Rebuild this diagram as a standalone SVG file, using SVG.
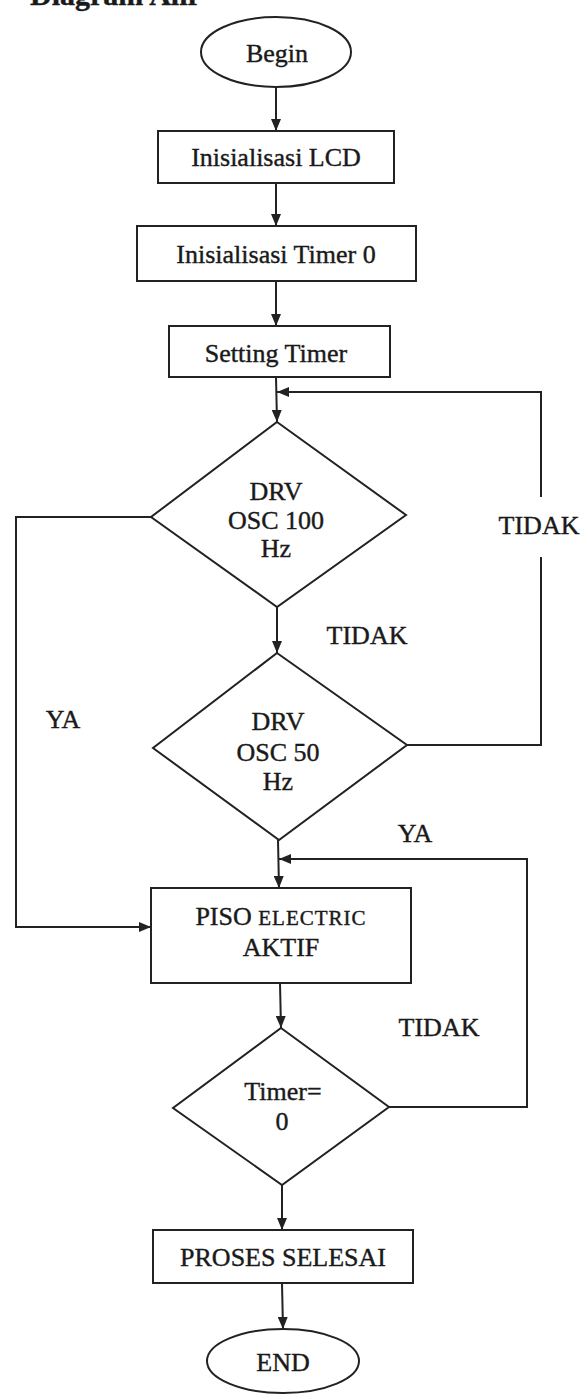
<svg xmlns="http://www.w3.org/2000/svg" width="584" height="1394" viewBox="0 0 584 1394">
<style>
.shape{fill:#fff;stroke:#222;stroke-width:2}
.conn{fill:none;stroke:#222;stroke-width:2}
text{font-family:"Liberation Serif","Times New Roman",serif;font-size:26px;fill:#1a1a1a;stroke:#1a1a1a;stroke-width:0.4;text-anchor:middle}
.lbl{font-size:26px}
</style>
<defs>
<marker id="arr" viewBox="0 0 12 10" refX="12" refY="5" markerWidth="12" markerHeight="10" markerUnits="userSpaceOnUse" orient="auto">
<path d="M0,0 L12,5 L0,10 Z" fill="#222"/>
</marker>
</defs>
<rect width="584" height="1394" fill="#fff"/>
<text x="30" y="5" style="text-anchor:start;font-weight:bold;font-size:30px">Diagram Alir</text>
<g id="connectors">
<path class="conn" d="M276,87 V131" marker-end="url(#arr)"/>
<path class="conn" d="M276,183 V226" marker-end="url(#arr)"/>
<path class="conn" d="M276,281 V326" marker-end="url(#arr)"/>
<path class="conn" d="M276,377 L277,422" marker-end="url(#arr)"/>
<path class="conn" d="M151,517 H16 V927 H151" marker-end="url(#arr)"/>
<path class="conn" d="M277,607 V653" marker-end="url(#arr)"/>
<path class="conn" d="M407,745 H541 V557 M541,497 V392 H277" marker-end="url(#arr)"/>
<path class="conn" d="M278,840 L279,888" marker-end="url(#arr)"/>
<path class="conn" d="M280,983 L281,1028" marker-end="url(#arr)"/>
<path class="conn" d="M389,1107 H527 V859 H279" marker-end="url(#arr)"/>
<path class="conn" d="M282,1185 V1230" marker-end="url(#arr)"/>
<path class="conn" d="M282,1283 L283,1329" marker-end="url(#arr)"/>
<text class="lbl" x="539" y="534">TIDAK</text>
<text class="lbl" x="367" y="644">TIDAK</text>
<text class="lbl" x="63" y="728">YA</text>
<text class="lbl" x="415" y="842">YA</text>
<text class="lbl" x="439" y="1036">TIDAK</text>
</g>
<g id="begin">
<ellipse class="shape" cx="276" cy="52" rx="75" ry="35"/>
<text x="277" y="62">Begin</text>
</g>
<g id="init-lcd">
<rect class="shape" x="158" y="131" width="236" height="52"/>
<text x="276" y="166">Inisialisasi LCD</text>
</g>
<g id="init-timer0">
<rect class="shape" x="137" y="226" width="279" height="55"/>
<text x="276" y="263">Inisialisasi Timer 0</text>
</g>
<g id="setting-timer">
<rect class="shape" x="169" y="326" width="221" height="51"/>
<text x="276" y="362">Setting Timer</text>
</g>
<g id="drv-100">
<path class="shape" d="M277,422 L406,515 L277,607 L151,517 Z"/>
<text x="276" y="500">DRV</text>
<text x="276" y="529">OSC 100</text>
<text x="276" y="557">Hz</text>
</g>
<g id="drv-50">
<path class="shape" d="M277,653 L407,745 L279,840 L153,748 Z"/>
<text x="278" y="730">DRV</text>
<text x="278" y="761">OSC 50</text>
<text x="278" y="790">Hz</text>
</g>
<g id="piso">
<rect class="shape" x="151" y="888" width="260" height="95"/>
<text x="281" y="925">PISO <tspan style="font-size:21px" letter-spacing="1">ELECTRIC</tspan></text>
<text x="281" y="956">AKTIF</text>
</g>
<g id="timer-zero">
<path class="shape" d="M281,1028 L389,1107 L282,1185 L173,1108 Z"/>
<text x="283" y="1100">Timer=</text>
<text x="282" y="1130">0</text>
</g>
<g id="proses-selesai">
<rect class="shape" x="153" y="1230" width="260" height="53"/>
<text x="283" y="1266">PROSES SELESAI</text>
</g>
<g id="end">
<ellipse class="shape" cx="283" cy="1361" rx="76" ry="32"/>
<text x="283" y="1371">END</text>
</g>
</svg>
